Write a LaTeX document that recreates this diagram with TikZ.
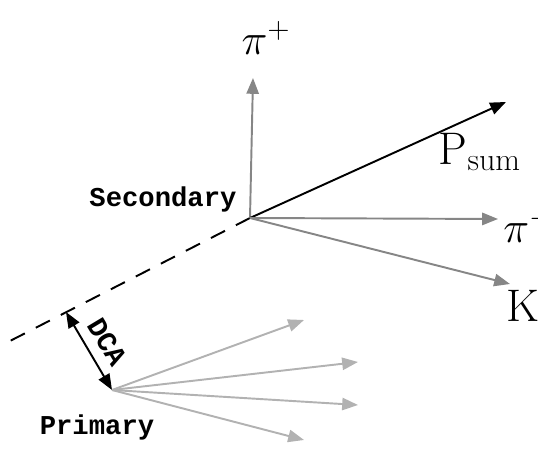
\documentclass[tikz,border=0pt]{standalone}
\usepackage{fontspec}
\newfontfamily\labelfont{Liberation Mono}
\usepackage{tikz}
\usetikzlibrary{arrows.meta,positioning}

\begin{document}
\begin{tikzpicture}[
  x=0.02cm, y=-0.02cm,
  vtx/.style={font=\labelfont\bfseries\fontsize{15.5}{18}\selectfont, inner sep=0pt},
  part/.style={font=\fontsize{26}{30}\selectfont, inner sep=0pt},
  trk/.style={line width=1.1pt, -{Triangle[length=9pt,width=7pt]}},
  sectrk/.style={trk, draw=gray!95},
  primtrk/.style={trk, draw=gray!60}
]
  \useasboundingbox (0,0) rectangle (538,452);
  % vertices
  \coordinate (sec) at (250,218);
  \coordinate (prim) at (112,390);
  \coordinate (dcatop) at (66,312);
  \coordinate (lineend) at (8,342);
  % track ends
  \coordinate (pipend) at (253,78);
  \coordinate (psumend) at (506,102);
  \coordinate (pimend) at (498,219);
  \coordinate (kend) at (510,284);
  \coordinate (p1end) at (304,320);
  \coordinate (p2end) at (358,362);
  \coordinate (p3end) at (358,405);
  \coordinate (p4end) at (304,440);
  % labels
  \node[vtx] (secl) at (163,199) {Secondary};
  \node[vtx] (priml) at (97,427) {Primary};
  \node[part] (pipl) at (266,38) {$\pi^{+}$};
  \node[part] (psuml) at (480,152) {$\mathrm{P}_{\mathrm{sum}}$};
  \node[part, anchor=west] (piml) at (503,226) {$\pi^{-}$};
  \node[part, anchor=north west] (kl) at (506,290) {K};
  \node[vtx, font=\labelfont\bfseries\fontsize{16}{18}\selectfont, rotate=-59] (dcal) at (107,342) {DCA};

  \draw[black, line width=1.1pt, dash pattern=on 9pt off 7pt] (sec) -- (lineend);
  \draw[black, line width=1.1pt, {Triangle[length=9pt,width=7pt]}-{Triangle[length=9pt,width=7pt]}] (dcatop) -- (prim);

  \draw[sectrk] (sec) -- (pipend);
  \draw[trk, draw=black] (sec) -- (psumend);
  \draw[sectrk] (sec) -- (pimend);
  \draw[sectrk] (sec) -- (kend);

  \foreach \e in {p1end,p2end,p3end,p4end}
    \draw[primtrk] (prim) -- (\e);
\end{tikzpicture}
\end{document}
